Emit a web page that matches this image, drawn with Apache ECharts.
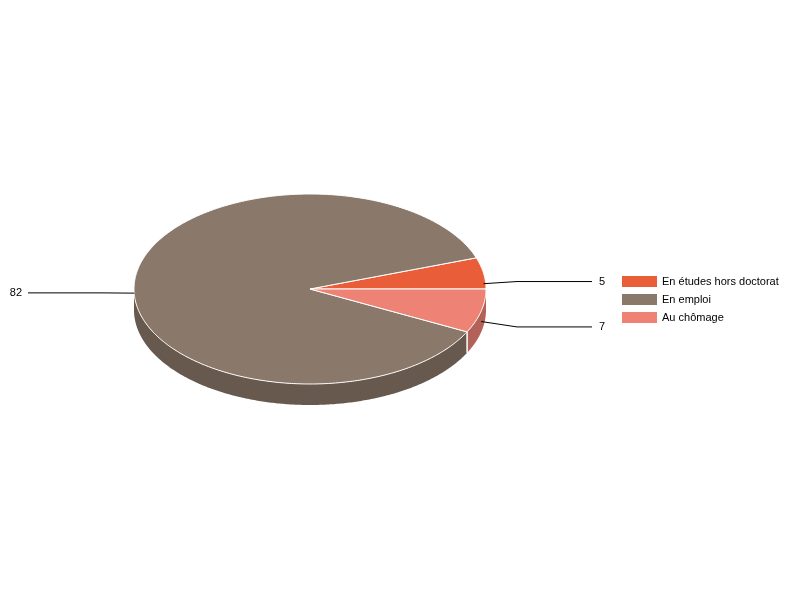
<!DOCTYPE html>
<html lang="fr">
<head>
<meta charset="UTF-8">
<title>Situation</title>
<script src="https://cdn.jsdelivr.net/npm/echarts@6/dist/echarts.min.js"></script>
<style>html,body{margin:0;padding:0;background:#fff;}</style>
</head>
<body>
<div id="main" style="width:800px;height:600px;"></div>
<script>
var categories = ['En études hors doctorat', 'En emploi', 'Au chômage'];
var values = [5, 82, 7];

var topColors = ['#E95D38', '#8A796B', '#EE8274'];
var sideColors = ['#AE4529', '#67594D', '#B3625A'];

// geometry of the fake 3d pie (ellipse + wall height)
var cx = 310, cy = 289, rx = 176, ry = 95, depth = 21;
var fontFamily = '"Liberation Sans", Arial, sans-serif';

var total = values.reduce(function (a, b) { return a + b; }, 0);
var angles = [];
var acc = 0;
values.forEach(function (v) {
    var a0 = acc / total * Math.PI * 2;
    acc += v;
    angles.push([a0, acc / total * Math.PI * 2]);
});

function pt(t, dy) {
    return [cx + rx * Math.cos(t), cy - ry * Math.sin(t) + (dy || 0)];
}

function arc(t0, t1, dy) {
    var pts = [];
    var n = Math.max(2, Math.ceil(Math.abs(t1 - t0) / 0.01));
    for (var k = 0; k <= n; k++) pts.push(pt(t0 + (t1 - t0) * k / n, dy));
    return pts;
}

function renderSlice(i) {
    return function (params, api) {
        var a0 = angles[i][0], a1 = angles[i][1];
        var children = [];

        // wall: only the front half (pi..2pi) shows
        var s = Math.max(a0, Math.PI), e = Math.min(a1, Math.PI * 2);
        if (e > s) {
            children.push({
                type: 'polygon', z2: 1,
                shape: { points: arc(s, e, 0).concat(arc(e, s, depth)) },
                style: { fill: sideColors[i] }
            });
            [a0, a1].forEach(function (t) {
                if (t > Math.PI + 1e-6 && t < Math.PI * 2 - 1e-6) {
                    var p = pt(t, 0);
                    children.push({
                        type: 'line', z2: 2,
                        shape: { x1: p[0], y1: p[1], x2: p[0], y2: p[1] + depth },
                        style: { stroke: '#fff', lineWidth: 1 }
                    });
                }
            });
        }

        // top face
        children.push({
            type: 'polygon', z2: 10,
            shape: { points: [[cx, cy]].concat(arc(a0, a1, 0)) },
            style: { fill: topColors[i], stroke: '#fff', lineWidth: 1 }
        });

        // leader line and value label
        var m = (a0 + a1) / 2;
        var anchor = pt(m, depth / 2);
        var right = Math.cos(m) >= 0;
        var ly = anchor[1] + (anchor[1] - (cy + depth / 2)) * 0.2 + 1;
        var elbowX = right ? cx + rx + 31 : cx - rx - 31;
        var endX = right ? cx + rx + 106 : cx - rx - 106;
        children.push({
            type: 'polyline', z2: 20,
            shape: { points: [anchor, [elbowX, ly], [endX, ly]] },
            style: { stroke: '#000', lineWidth: 1, fill: null }
        });
        children.push({
            type: 'text', z2: 20,
            x: right ? endX + 7 : endX - 6,
            y: ly,
            style: {
                text: String(values[i]),
                fill: '#000',
                fontSize: 11,
                fontFamily: fontFamily,
                align: right ? 'left' : 'right',
                verticalAlign: 'middle'
            }
        });

        return { type: 'group', children: children };
    };
}

var chart = echarts.init(document.getElementById('main'));

var option = {
    animation: false,
    color: topColors,
    legend: {
        orient: 'vertical',
        left: 622,
        top: 276,
        padding: 0,
        icon: 'rect',
        itemWidth: 35,
        itemHeight: 11,
        itemGap: 7,
        selectedMode: false,
        data: categories,
        textStyle: { fontSize: 11, color: '#000', fontFamily: fontFamily }
    },
    series: categories.map(function (name, i) {
        return {
            type: 'custom',
            name: name,
            coordinateSystem: 'none',
            silent: true,
            itemStyle: { color: topColors[i] },
            renderItem: renderSlice(i),
            data: [values[i]]
        };
    })
};

chart.setOption(option);
</script>
</body>
</html>
